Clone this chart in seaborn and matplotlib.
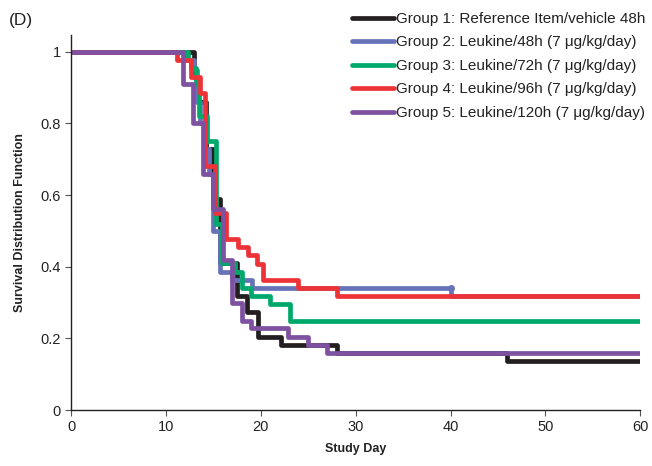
import matplotlib
matplotlib.use("Agg")
import matplotlib.pyplot as plt
import seaborn as sns
import pandas as pd

groups = ["Group 1: Reference Item/vehicle 48h",
          "Group 2: Leukine/48h (7 \u03bcg/kg/day)",
          "Group 3: Leukine/72h (7 \u03bcg/kg/day)",
          "Group 4: Leukine/96h (7 \u03bcg/kg/day)",
          "Group 5: Leukine/120h (7 \u03bcg/kg/day)"]

g1_day = [0, 13.0, 13.4, 14.2, 15.0, 15.7, 17.5, 18.5, 19.7, 22.1, 28.0, 46.0, 60]
g1_surv = [1.0, 0.93, 0.86, 0.73, 0.59, 0.41, 0.318, 0.273, 0.205, 0.182, 0.159, 0.136, 0.136]

g2_day = [0, 12.2, 13.0, 13.3, 13.6, 14.0, 14.5, 15.0, 15.7, 17.0, 19.1, 40.0, 60]
g2_surv = [1.0, 0.977, 0.95, 0.86, 0.80, 0.73, 0.66, 0.50, 0.386, 0.364, 0.341, 0.318, 0.318]

g3_day = [0, 12.3, 12.6, 13.2, 13.5, 14.3, 15.3, 15.9, 17.3, 18.0, 19.0, 21.0, 23.1, 60]
g3_surv = [1.0, 0.977, 0.955, 0.91, 0.82, 0.75, 0.52, 0.41, 0.386, 0.341, 0.318, 0.295, 0.25, 0.25]

g4_day = [0, 11.2, 12.6, 13.6, 14.1, 15.2, 16.3, 17.6, 18.7, 19.6, 20.2, 23.9, 28.0, 60]
g4_surv = [1.0, 0.977, 0.93, 0.886, 0.68, 0.55, 0.477, 0.455, 0.432, 0.409, 0.364, 0.341, 0.318, 0.318]

g5_day = [0, 11.8, 12.9, 13.9, 15.0, 16.0, 17.0, 18.0, 19.0, 22.9, 25.0, 27.0, 60]
g5_surv = [1.0, 0.91, 0.80, 0.66, 0.56, 0.42, 0.30, 0.25, 0.23, 0.205, 0.182, 0.159, 0.159]

colors = ["#231f20", "#6673b9", "#00a96b", "#ee3338", "#7e52a0"]

days = [g1_day, g2_day, g3_day, g4_day, g5_day]
survs = [g1_surv, g2_surv, g3_surv, g4_surv, g5_surv]

rows = []
for g, d, s in zip(groups, days, survs):
    for x, y in zip(d, s):
        rows.append({"Study Day": x, "Survival": y, "Group": g})
df = pd.DataFrame(rows)

sns.set_style("ticks")
plt.rcParams["font.family"] = ["Liberation Sans", "DejaVu Sans"]

fig = plt.figure(figsize=(6.52, 4.66), dpi=100)
ax = fig.add_axes([0.109, 0.120, 0.873, 0.805])

sns.lineplot(data=df, x="Study Day", y="Survival", hue="Group",
             hue_order=groups, palette=dict(zip(groups, colors)),
             drawstyle="steps-post", estimator=None, linewidth=3.4,
             ax=ax, legend=True)

# censor mark on group 2
ax.plot([40], [0.341], marker="o", ms=4, color=colors[1], zorder=5)

ax.set_xlim(0, 60)
ax.set_ylim(0, 1.047)
ax.set_xticks([0, 10, 20, 30, 40, 50, 60])
ax.set_yticks([0, 0.2, 0.4, 0.6, 0.8, 1.0])
ax.set_yticklabels(["0", "0.2", "0.4", "0.6", "0.8", "1"])
ax.tick_params(axis="both", labelsize=10.5, colors="#555555", labelcolor="#222222",
               direction="out", length=4, width=0.8)
ax.set_xlabel("Study Day", fontsize=9, fontweight="bold", color="#222222", labelpad=6)
ax.set_ylabel("Survival Distribution Function", fontsize=9, fontweight="bold",
              color="#222222", labelpad=10)
for sp in ["top", "right"]:
    ax.spines[sp].set_visible(False)
for sp in ["left", "bottom"]:
    ax.spines[sp].set_color("#222222")
    ax.spines[sp].set_linewidth(1.0)

handles, labels = ax.get_legend_handles_labels()
ax.get_legend().remove()
leg = fig.legend(handles, labels, loc="upper right", bbox_to_anchor=(1.0, 0.989),
                 frameon=False, fontsize=11, handlelength=2.75, handletextpad=0.13,
                 labelspacing=0.62, borderaxespad=0.15, borderpad=0.3)
for t in leg.get_texts():
    t.set_color("#222222")

fig.text(0.014, 0.972, "(D)", fontsize=12.5, va="top", ha="left", color="#222222")

fig.savefig("out.png", dpi=100)
